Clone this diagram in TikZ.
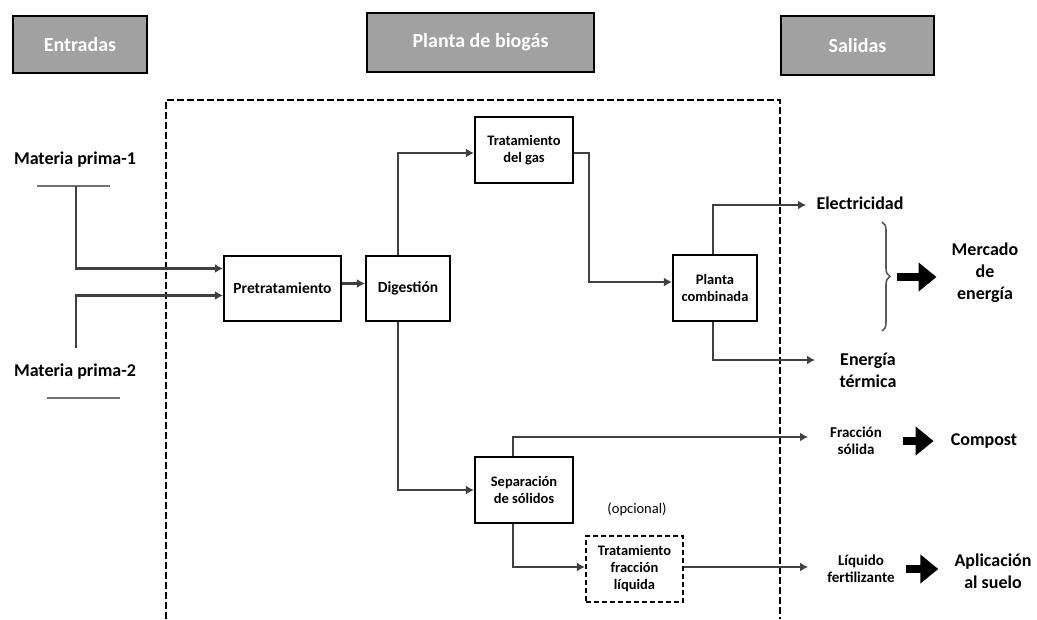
\documentclass[tikz,border=0pt]{standalone}
\usepackage{fontspec}
\setmainfont{Carlito}
\usetikzlibrary{arrows.meta,decorations.pathreplacing}

\begin{document}
\begin{tikzpicture}[
  x=1pt, y=-1pt,
  font=\bfseries,
  hdr/.style={draw, line width=2.5pt, fill=black!37, text=white, inner sep=0pt, font=\fontsize{20}{22}\selectfont\bfseries},
  box/.style={draw, rectangle, line width=2.2pt, align=center, inner sep=0pt, font=\fontsize{14.5}{17}\selectfont\bfseries},
  lbl/.style={align=center, inner sep=1pt, font=\fontsize{18}{22}\selectfont\bfseries},
  small/.style={align=center, inner sep=1pt, font=\fontsize{15}{17.5}\selectfont\bfseries},
  frame/.style={line width=2.3pt, dash pattern=on 7pt off 3pt},
  arr/.style={line width=2.6pt, draw=black!75, -{Latex[length=8pt,width=9pt]}},
  bigarr/.style={line width=8pt, -{Triangle[length=18pt,width=28pt]}},
  bar/.style={line width=2.2pt, draw=black!55}
]
\useasboundingbox (0,0) rectangle (1037,619);

% headers
\node[hdr, minimum width=134pt, minimum height=57pt] (entr) at (80,44.5) {Entradas};
\node[hdr, minimum width=227pt, minimum height=59pt] (plan) at (480.5,42.5) {Planta de biogás};
\node[hdr, minimum width=153pt, minimum height=59pt] (sal) at (857.5,45.5) {Salidas};

% plant boundary
\draw[frame] (166,619) -- (166,100) -- (780,100) -- (780,619);

% inputs
\node[lbl] (mp1) at (75,160) {Materia prima-1};
\node[lbl] (mp2) at (75,372) {Materia prima-2};
\draw[bar] (37,186) -- (110,186);
\draw[bar] (47,398) -- (120,398);
\coordinate (mp1j) at (76,186);
\coordinate (mp2j) at (76,348);

% process boxes
\node[box, minimum width=117pt, minimum height=65pt, font=\fontsize{15.5}{17}\selectfont\bfseries] (pre) at (282.5,288.5) {Pretratamiento};
\node[box, minimum width=84pt, minimum height=65pt, font=\fontsize{15.5}{17}\selectfont\bfseries] (dig) at (408,288.5) {Digestión};
\node[box, minimum width=98pt, minimum height=66pt] (tg) at (524,150) {Tratamiento\\del gas};
\node[box, minimum width=84pt, minimum height=66pt] (pc) at (715,288) {Planta\\combinada};
\node[box, minimum width=98pt, minimum height=66pt] (sep) at (524,490) {Separación\\de sólidos};
\node[box, dashed, dash pattern=on 5pt off 3pt, minimum width=97pt, minimum height=66pt] (tfl) at (634.5,569) {Tratamiento\\fracción\\líquida};
\node[small, font=\fontsize{14.5}{17}\selectfont] (opc) at (637,509) {(opcional)};

% outputs
\node[lbl] (elec) at (860,203) {Electricidad};
\node[lbl] (et) at (868,370) {Energía\\térmica};
\node[lbl] (merc) at (985,273) {Mercado\\de\\energía};
\node[small] (fs) at (856,441) {Fracción\\sólida};
\node[lbl] (comp) at (984,441) {Compost};
\node[small] (lf) at (861,569) {Líquido\\fertilizante};
\node[lbl] (apl) at (993,571) {Aplicación\\al suelo};

\coordinate (elecin) at (806,205);
\coordinate (etin) at (815,360);
\coordinate (fsin) at (808,437);
\coordinate (lfin) at (808,567);
\coordinate (brtop) at (882,222);
\coordinate (brbot) at (882,331);
\coordinate (brtip) at (897,277);

% connectors
\draw[arr] (mp1j) |- ([yshift=20pt]pre.west);
\draw[arr] (mp2j) |- ([yshift=-7pt]pre.west);
\draw[arr] ([yshift=5pt]pre.east) -- ([yshift=5pt]dig.west);
\draw[arr] ([xshift=-10pt]dig.north) |- ([yshift=-3pt]tg.west);
\draw[arr] ([yshift=-3pt]tg.east) -- ++(15,0) |- ([yshift=6pt]pc.west);
\draw[arr] ([xshift=-2pt]pc.north) |- (elecin);
\draw[arr] ([xshift=-2pt]pc.south) |- (etin);
\draw[arr] ([xshift=-10pt]dig.south) |- (sep.west);
\draw[arr] ([xshift=-11pt]sep.north) |- (fsin);
\draw[arr] ([xshift=-11pt]sep.south) |- ([yshift=2pt]tfl.west);
\draw[arr] ([yshift=2pt]tfl.east) -- (lfin);

% to markets
\draw[line width=1.6pt, draw=black!65, decorate, decoration={brace, amplitude=8pt}] (brtop) -- (brbot);
\draw[bigarr, shorten >=14pt] (brtip) -- (brtip -| merc.west);
\draw[bigarr, shorten <=20pt, shorten >=16pt] (fs.east) -- (fs.east -| comp.west);
\draw[bigarr, shorten <=10pt, shorten >=15pt] (lf.east) -- (lf.east -| apl.west);
\end{tikzpicture}
\end{document}
